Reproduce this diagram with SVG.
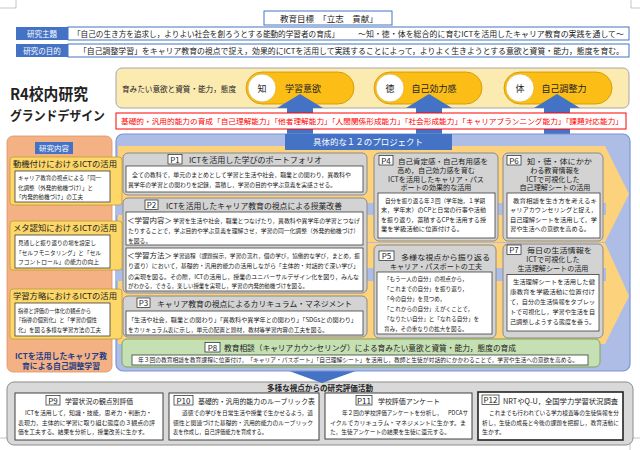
<svg xmlns="http://www.w3.org/2000/svg" width="640" height="450" viewBox="0 0 640 450">
<style>
text{font-family:"Noto Sans CJK JP","Noto Sans CJK SC","Noto Sans",sans-serif;fill:#222}
.ti{font-size:7.6px}
.tm{font-size:7.1px}
.sm{font-size:5.8px}
.wt{fill:#fff}
.gray{fill:#d3d3d3;stroke:#8a8a8a;stroke-width:1}
.inner{fill:#fff;stroke:#3c3c3c;stroke-width:0.8}
.plab{fill:#fff;stroke:#222;stroke-width:0.7}
.pl{font-size:8px;text-anchor:middle}
.ybox{fill:#fdd767;stroke:#c09a3c;stroke-width:0.8}
.ytitle{font-size:8.2px;fill:#222}
.pill{fill:#fcbd17;stroke:#c99300;stroke-width:0.8}
.circ{fill:#fff;stroke:#d8a300;stroke-width:0.6}
.blue{fill:#4472c4}
.c{text-anchor:middle}
.ev{fill:#fff;stroke:#404040;stroke-width:1}
</style>

<g id="cropmarks" fill="none" stroke="#a0a0a0" stroke-width="0.6">
<path d="M16,0 V8 H0"/><path d="M631,0 V8 H640"/><path d="M0,438 H7"/><path d="M630,450 V438 H640"/>
</g>

<g id="goal">
<rect x="264" y="11" width="128" height="14" fill="#fff" stroke="#4472c4" stroke-width="1"/>
<text x="329" y="21.5" class="c" font-size="8.5">教育目標　「立志　貢献」</text>
</g>

<g id="theme">
<rect x="16" y="27" width="52" height="13" class="blue"/>
<text x="42" y="36.5" class="c wt" font-size="7.5">研究主題</text>
<rect x="68" y="27" width="561" height="13" fill="#fff" stroke="#4472c4"/>
<text x="73" y="36.5" font-size="7.6" textLength="266" lengthAdjust="spacingAndGlyphs">「自己の生き方を追求し，よりよい社会を創ろうとする能動的学習者の育成」</text>
<text x="358" y="36.5" font-size="7.6" textLength="266" lengthAdjust="spacingAndGlyphs">～知・徳・体を総合的に育むICTを活用したキャリア教育の実践を通して～</text>
</g>

<g id="purpose">
<rect x="16" y="44" width="52" height="13" class="blue"/>
<text x="42" y="53.5" class="c wt" font-size="7.5">研究の目的</text>
<rect x="68" y="44" width="561" height="13" fill="#fff" stroke="#4472c4"/>
<text x="79" y="53.5" font-size="7.8" textLength="545" lengthAdjust="spacingAndGlyphs">「自己調整学習」をキャリア教育の視点で捉え，効果的にICTを活用して実践することによって，よりよく生きようとする意欲と資質・能力，態度を育む。</text>
</g>

<g id="heading">
<text x="10" y="100" font-size="15.5" font-weight="700" fill="#111" textLength="78" lengthAdjust="spacingAndGlyphs">R4校内研究</text>
<text x="10" y="120" font-size="13" font-weight="700" fill="#111" textLength="95" lengthAdjust="spacingAndGlyphs">グランドデザイン</text>
</g>

<g id="goals-band">
<rect x="116" y="68" width="513" height="40" rx="6" fill="#fcebb1" stroke="#a6a6a6"/>
<text x="122" y="92" font-size="7.5" textLength="114" lengthAdjust="spacingAndGlyphs">育みたい意欲と資質・能力，態度</text>
</g>
<g id="pill-chi">
<rect x="246" y="72" width="108" height="32" rx="16" class="pill"/>
<circle cx="262" cy="88" r="14" class="circ"/>
<text x="262" y="91.5" class="c" font-size="9">知</text>
<text x="303" y="91.5" class="c" font-size="9">学習意欲</text>
</g>
<g id="pill-toku">
<rect x="374" y="72" width="108" height="32" rx="16" class="pill"/>
<circle cx="390" cy="88" r="14" class="circ"/>
<text x="390" y="91.5" class="c" font-size="9">徳</text>
<text x="434" y="91.5" class="c" font-size="9">自己効力感</text>
</g>
<g id="pill-tai">
<rect x="504" y="72" width="108" height="32" rx="16" class="pill"/>
<circle cx="520" cy="88" r="14" class="circ"/>
<text x="520" y="91.5" class="c" font-size="9">体</text>
<text x="564" y="91.5" class="c" font-size="9">自己調整力</text>
</g>

<g id="bottom-panel">
<rect x="7" y="382" width="626" height="63" rx="7" fill="#d9d9d9" stroke="#8c8c8c"/>
<text x="320" y="391" class="c" font-size="7.6" font-weight="600" textLength="106" lengthAdjust="spacingAndGlyphs">多様な視点からの研究評価活動</text>
</g>

<g id="connectors" class="blue">
<polygon points="277,108 300,94 323,108 313,108 313,140 287,140 287,108"/>
<polygon points="406,108 429,94 452,108 442,108 442,140 416,140 416,108"/>
<polygon points="534,108 557,94 580,108 570,108 570,140 544,140 544,108"/>
<polygon points="289,371 356,371 322,383"/>
</g>

<g id="abilities">
<rect x="116" y="113" width="510" height="16" fill="#fff" stroke="#ff0000" stroke-width="1"/>
<text x="121" y="124" font-size="7.4" style="fill:#ff0000" textLength="502" lengthAdjust="spacingAndGlyphs">基礎的・汎用的能力の育成「自己理解能力」「他者理解能力」「人間関係形成能力」「社会形成能力」「キャリアプランニング能力」「課題対応能力」</text>
</g>

<g id="research-content">
<rect x="7" y="136" width="105" height="236" rx="6" fill="#f4b183" stroke="#d99468" stroke-width="0.8"/>
<rect x="35" y="142" width="38" height="12" class="blue"/>
<text x="54" y="151" class="c wt" font-size="7.3" textLength="30" lengthAdjust="spacingAndGlyphs">研究内容</text>
<text x="61" y="358.5" class="c" font-size="7.5" font-weight="700" style="fill:#1f3c88" textLength="92" lengthAdjust="spacingAndGlyphs">ICTを活用したキャリア教</text>
<text x="61" y="368.5" class="c" font-size="7.5" font-weight="700" style="fill:#1f3c88" textLength="78" lengthAdjust="spacingAndGlyphs">育による自己調整学習</text>
</g>

<g id="projects-panel">
<rect x="116" y="134" width="514" height="237" rx="7" fill="#aebde6" stroke="#7b96d4" stroke-width="1.2"/>
<path d="M118,146 L605,146 L629,194 L605,242 L118,242 Z" fill="#fcd27d"/>
<path d="M118,243 L605,243 L629,296 L605,344 L118,344 Z" fill="#fcd27d"/>
<rect x="116" y="203" width="490" height="12" fill="#aebde6"/>
<rect x="116" y="268" width="490" height="13" fill="#aebde6"/>
<rect x="285" y="134" width="167" height="16" class="blue"/>
<text x="368" y="145" class="c wt" font-size="8.5" textLength="110" lengthAdjust="spacingAndGlyphs">具体的な１２のプロジェクト</text>
</g>

<g id="motivation">
<rect x="10" y="157" width="112" height="48" rx="3" class="ybox"/>
<text x="13" y="167" class="ytitle" textLength="104" lengthAdjust="spacingAndGlyphs">動機付けにおけるICTの活用</text>
<rect x="15" y="171" width="95" height="31" class="inner"/>
<text x="18" y="180" class="sm" textLength="83" lengthAdjust="spacingAndGlyphs">キャリア教育の視点による「同一</text>
<text x="18" y="189.5" class="sm" textLength="75" lengthAdjust="spacingAndGlyphs">化調整（外発的動機づけ）」と</text>
<text x="16" y="198.5" class="sm" textLength="67" lengthAdjust="spacingAndGlyphs">「内発的動機づけ」の工夫</text>
</g>

<g id="metacognition">
<rect x="10" y="221" width="112" height="49" rx="3" class="ybox"/>
<text x="13" y="231" class="ytitle" textLength="104" lengthAdjust="spacingAndGlyphs">メタ認知におけるICTの活用</text>
<rect x="15" y="235" width="95" height="33" class="inner"/>
<text x="18" y="245" class="sm" textLength="78" lengthAdjust="spacingAndGlyphs">見通しと振り返りの場を設定し</text>
<text x="16" y="254.5" class="sm" textLength="85" lengthAdjust="spacingAndGlyphs">「セルフモニタリング」と「セル</text>
<text x="18" y="264" class="sm" textLength="81" lengthAdjust="spacingAndGlyphs">フコントロール」の能力の向上</text>
</g>

<g id="strategy">
<rect x="10" y="289" width="112" height="50" rx="3" class="ybox"/>
<text x="13" y="299" class="ytitle" textLength="104" lengthAdjust="spacingAndGlyphs">学習方略におけるICTの活用</text>
<rect x="15" y="303" width="95" height="33" class="inner"/>
<text x="18" y="312.5" class="sm" textLength="73" lengthAdjust="spacingAndGlyphs">指導と評価の一体化の観点から</text>
<text x="16" y="322" class="sm" textLength="81" lengthAdjust="spacingAndGlyphs">「指導の個別化」と「学習の個性</text>
<text x="18" y="331.5" class="sm" textLength="83" lengthAdjust="spacingAndGlyphs">化」を図る多様な学習方法の工夫</text>
</g>

<g id="p1">
<rect x="123" y="153" width="244" height="42" rx="5" class="gray"/>
<rect x="168" y="154.5" width="14" height="9.5" class="plab"/>
<text x="175" y="162.5" class="pl">P1</text>
<text x="189" y="162.5" class="ti" textLength="133" lengthAdjust="spacingAndGlyphs">ICTを活用した学びのポートフォリオ</text>
<rect x="126" y="166" width="237" height="26" class="inner"/>
<text x="132" y="177" class="sm" textLength="219" lengthAdjust="spacingAndGlyphs">全ての教科で，単元のまとめとして学習と生活や社会，職業との関わり，異教科や</text>
<text x="128" y="187" class="sm" textLength="208" lengthAdjust="spacingAndGlyphs">異学年の学習との関わりを記録，蓄積し，学習の目的や学ぶ意義を実感させる。</text>
</g>

<g id="p2">
<rect x="123" y="198" width="244" height="95" rx="5" class="gray"/>
<rect x="145" y="200" width="13" height="9.5" class="plab"/>
<text x="151.5" y="208" class="pl">P2</text>
<text x="166" y="208.5" class="ti" textLength="176" lengthAdjust="spacingAndGlyphs">ICTを活用したキャリア教育の視点による授業改善</text>
<rect x="126" y="212" width="237" height="33" class="inner"/>
<text x="127" y="222.5" font-size="7.3" textLength="45" lengthAdjust="spacingAndGlyphs">＜学習内容＞</text>
<text x="173" y="222.5" class="sm" textLength="187" lengthAdjust="spacingAndGlyphs">学習を生活や社会，職業とつなげたり，異教科や異学年の学習とつなげ</text>
<text x="128" y="233" class="sm" textLength="231" lengthAdjust="spacingAndGlyphs">たりすることで，学ぶ目的や学ぶ意義を理解させ，学習の同一化調整（外発的動機づけ）</text>
<text x="128" y="242.5" class="sm">を図る。</text>
<rect x="126" y="248" width="237" height="43" class="inner"/>
<text x="127" y="258" font-size="7.3" textLength="45" lengthAdjust="spacingAndGlyphs">＜学習方法＞</text>
<text x="173" y="258" class="sm" textLength="187" lengthAdjust="spacingAndGlyphs">学習過程（課題提示，学習の流れ，個の学び，協働的な学び，まとめ，振</text>
<text x="128" y="268" class="sm" textLength="231" lengthAdjust="spacingAndGlyphs">り返り）において，基礎的・汎用的能力の活用しながら「主体的・対話的で深い学び」</text>
<text x="128" y="278.5" class="sm" textLength="231" lengthAdjust="spacingAndGlyphs">の実現を図る。その際，ICTの活用し，授業のユニバーサルデザイン化を図り，みんな</text>
<text x="128" y="288" class="sm" textLength="180" lengthAdjust="spacingAndGlyphs">がわかる，できる，楽しい授業を実現し，学習の内発的動機づけを図る。</text>
</g>

<g id="p3">
<rect x="123" y="296" width="244" height="41" rx="5" class="gray"/>
<rect x="137" y="298" width="13" height="9.5" class="plab"/>
<text x="143.5" y="306" class="pl">P3</text>
<text x="157" y="307" class="ti" textLength="195" lengthAdjust="spacingAndGlyphs">キャリア教育の視点によるカリキュラム・マネジメント</text>
<rect x="126" y="311" width="237" height="24" class="inner"/>
<text x="128" y="321.5" class="sm" textLength="229" lengthAdjust="spacingAndGlyphs">「生活や社会，職業との関わり」「異教科や異学年との関わり」「SDGsとの関わり」</text>
<text x="128" y="331.5" class="sm" textLength="200" lengthAdjust="spacingAndGlyphs">をカリキュラム表に示し，単元の配置と題材，教材等学習内容の工夫を図る。</text>
</g>

<g id="p4">
<rect x="374" y="153" width="124" height="88" rx="5" class="gray"/>
<rect x="379" y="155.5" width="14" height="9.5" class="plab"/>
<text x="386" y="163.5" class="pl">P4</text>
<text x="398" y="163.5" class="tm" textLength="90" lengthAdjust="spacingAndGlyphs">自己肯定感・自己有用感を</text>
<text x="436" y="172.5" class="tm c">高め，自己効力感を育む</text>
<text x="436" y="181.5" class="tm c">ICTを活用したキャリア・パス</text>
<text x="436" y="190.3" class="tm c">ポートの効果的な活用</text>
<rect x="378" y="193" width="117" height="45" class="inner"/>
<text x="385" y="202.5" class="sm" textLength="100" lengthAdjust="spacingAndGlyphs">自分を振り返る年３回（学年始，１学期</text>
<text x="381" y="212" class="sm" textLength="105" lengthAdjust="spacingAndGlyphs">末，学年末）のCPと日常の行事や活動</text>
<text x="381" y="221.5" class="sm" textLength="105" lengthAdjust="spacingAndGlyphs">を振り返り，蓄積するCPを活用する授</text>
<text x="381" y="231" class="sm" textLength="82" lengthAdjust="spacingAndGlyphs">業を学級活動に位置付ける。</text>
</g>

<g id="p6">
<rect x="503" y="153" width="100" height="88" rx="5" class="gray"/>
<rect x="507" y="155.5" width="14" height="9.5" class="plab"/>
<text x="514" y="163.5" class="pl">P6</text>
<text x="527" y="163.5" class="tm" textLength="65" lengthAdjust="spacingAndGlyphs">知・徳・体にかか</text>
<text x="555" y="172.5" class="tm c">わる教育情報を</text>
<text x="553" y="181.5" class="tm c">ICTで可視化した</text>
<text x="555" y="190.3" class="tm c">自己理解シートの活用</text>
<rect x="507" y="193" width="93" height="45" class="inner"/>
<text x="513" y="202.5" class="sm" textLength="84" lengthAdjust="spacingAndGlyphs">教育相談を生き方を考えるキ</text>
<text x="510" y="212" class="sm" textLength="87" lengthAdjust="spacingAndGlyphs">ャリアカウンセリングと捉え，</text>
<text x="510" y="221.5" class="sm" textLength="87" lengthAdjust="spacingAndGlyphs">自己理解シートを活用して，学</text>
<text x="510" y="231" class="sm" textLength="80" lengthAdjust="spacingAndGlyphs">習や生活への意欲を高める。</text>
</g>

<g id="p5">
<rect x="374" y="245" width="122" height="93" rx="5" class="gray"/>
<rect x="379" y="251" width="15" height="9.5" class="plab"/>
<text x="386.5" y="259" class="pl">P5</text>
<text x="401" y="259.5" class="tm" textLength="89" lengthAdjust="spacingAndGlyphs">多様な視点から振り返る</text>
<text x="436" y="268.5" class="tm c">キャリア・パスポートの工夫</text>
<rect x="377" y="272" width="115" height="62" class="inner"/>
<text x="384" y="281" font-size="5.6">「もう一人の自分」の視点から，</text>
<text x="384" y="291" font-size="5.6">「これまでの自分」を振り返り，</text>
<text x="384" y="301" font-size="5.6">「今の自分」を見つめ，</text>
<text x="384" y="311" font-size="5.6">「これからの自分」えがくことで，</text>
<text x="384" y="321" font-size="5.6">「なりたい自分」と「なれる自分」を</text>
<text x="384" y="331" font-size="5.6">育み，その重なりの拡大を図る。</text>
</g>

<g id="p7">
<rect x="503" y="244" width="100" height="94" rx="5" class="gray"/>
<rect x="507" y="245" width="14" height="9.5" class="plab"/>
<text x="514" y="253" class="pl">P7</text>
<text x="527" y="253" class="tm" textLength="65" lengthAdjust="spacingAndGlyphs">毎日の生活情報を</text>
<text x="553" y="262" class="tm c">ICTで可視化した</text>
<text x="553" y="271" class="tm c">生活理解シートの活用</text>
<rect x="507" y="274.5" width="92" height="56.5" class="inner"/>
<text x="513" y="283.5" class="sm" textLength="82" lengthAdjust="spacingAndGlyphs">生活理解シートを活用した健</text>
<text x="510" y="293.5" class="sm" textLength="85" lengthAdjust="spacingAndGlyphs">康教育を学級活動に位置付け</text>
<text x="510" y="303.5" class="sm" textLength="85" lengthAdjust="spacingAndGlyphs">て，自分の生活情報をタブレッ</text>
<text x="510" y="313.5" class="sm" textLength="85" lengthAdjust="spacingAndGlyphs">トで可視化し，学習や生活を自</text>
<text x="510" y="323.5" class="sm" textLength="85" lengthAdjust="spacingAndGlyphs">己調整しようする態度を養う。</text>
</g>

<g id="p8">
<rect x="122" y="339" width="478" height="28" rx="5" fill="#c5e0b3" stroke="#7fa35f"/>
<rect x="205" y="342.5" width="15" height="9.5" class="plab"/>
<text x="212.5" y="350.5" class="pl">P8</text>
<text x="224" y="351" class="ti" textLength="292" lengthAdjust="spacingAndGlyphs">教育相談（キャリアカウンセリング）による育みたい意欲と資質・能力，態度の育成</text>
<rect x="132" y="355" width="456" height="10" class="inner"/>
<text x="138" y="362.3" font-size="5.9" textLength="440" lengthAdjust="spacingAndGlyphs">年３回の教育相談を教育課程に位置付け，「キャリア・パスポート」「自己理解シート」を活用し，教師と生徒が対話的にかかわることで，学習や生活への意欲を高める。</text>
</g>

<g id="p9">
<rect x="15" y="393" width="148" height="47" class="ev"/>
<rect x="46" y="395.5" width="14" height="9.5" class="plab"/>
<text x="53" y="403.5" class="pl">P9</text>
<text x="65" y="403.5" font-size="6.9" textLength="68" lengthAdjust="spacingAndGlyphs">学習状況の観点別評価</text>
<text x="25" y="415" font-size="5.9" textLength="127" lengthAdjust="spacingAndGlyphs">ICTを活用して，知識・技能，思考力・判断力・</text>
<text x="18" y="424.5" font-size="5.9" textLength="137" lengthAdjust="spacingAndGlyphs">表現力，主体的に学習に取り組む態度の３観点の評</text>
<text x="18" y="434" font-size="5.9" textLength="130" lengthAdjust="spacingAndGlyphs">価を工夫する。結果を分析し，授業改善に生かす。</text>
</g>

<g id="p10">
<rect x="169" y="393" width="150" height="47" class="ev"/>
<rect x="174" y="395.5" width="19" height="9.5" class="plab"/>
<text x="183.5" y="403.5" class="pl">P10</text>
<text x="198" y="403.5" font-size="6.9" textLength="117" lengthAdjust="spacingAndGlyphs">基礎的・汎用的能力のルーブリック表</text>
<text x="182" y="415" font-size="5.9" textLength="131" lengthAdjust="spacingAndGlyphs">道徳での学びを日常生活や授業で生かせるよう，道</text>
<text x="173" y="424.5" font-size="5.9" textLength="140" lengthAdjust="spacingAndGlyphs">徳性と関連づけた基礎的・汎用的能力のルーブリック</text>
<text x="173" y="434" font-size="5.9" textLength="94" lengthAdjust="spacingAndGlyphs">表を作成し，自己評価能力を育成する。</text>
</g>

<g id="p11">
<rect x="325" y="393" width="147" height="46" class="ev"/>
<rect x="356" y="395.5" width="16" height="9.5" class="plab"/>
<text x="364" y="403.5" class="pl">P11</text>
<text x="378" y="403.5" font-size="6.9" textLength="62" lengthAdjust="spacingAndGlyphs">学校評価アンケート</text>
<text x="342" y="415" font-size="5.9" textLength="126" lengthAdjust="spacingAndGlyphs">年２回の学校評価アンケートを分析し，　PDCAサ</text>
<text x="330" y="424.5" font-size="5.9" textLength="136" lengthAdjust="spacingAndGlyphs">イクルでカリキュラム・マネジメントに生かす。ま</text>
<text x="330" y="434" font-size="5.9" textLength="120" lengthAdjust="spacingAndGlyphs">た，生徒アンケートの結果を生徒に還元する。</text>
</g>

<g id="p12">
<rect x="478" y="392" width="145" height="48" fill="#fff" stroke="#222" stroke-width="1.6"/>
<rect x="482" y="395" width="17" height="9.5" class="plab"/>
<text x="490.5" y="403" class="pl">P12</text>
<text x="503" y="403.5" font-size="6.9" textLength="115" lengthAdjust="spacingAndGlyphs">NRTやQ-U，全国学力学習状況調査</text>
<text x="489" y="415" font-size="5.9" textLength="130" lengthAdjust="spacingAndGlyphs">これまでも行われている学力検査等の生徒情報を分</text>
<text x="482" y="424.5" font-size="5.9" textLength="137" lengthAdjust="spacingAndGlyphs">析し，生徒の成長と今後の課題を把握し，教育活動に</text>
<text x="482" y="434" font-size="5.9">生かす。</text>
</g>
</svg>
